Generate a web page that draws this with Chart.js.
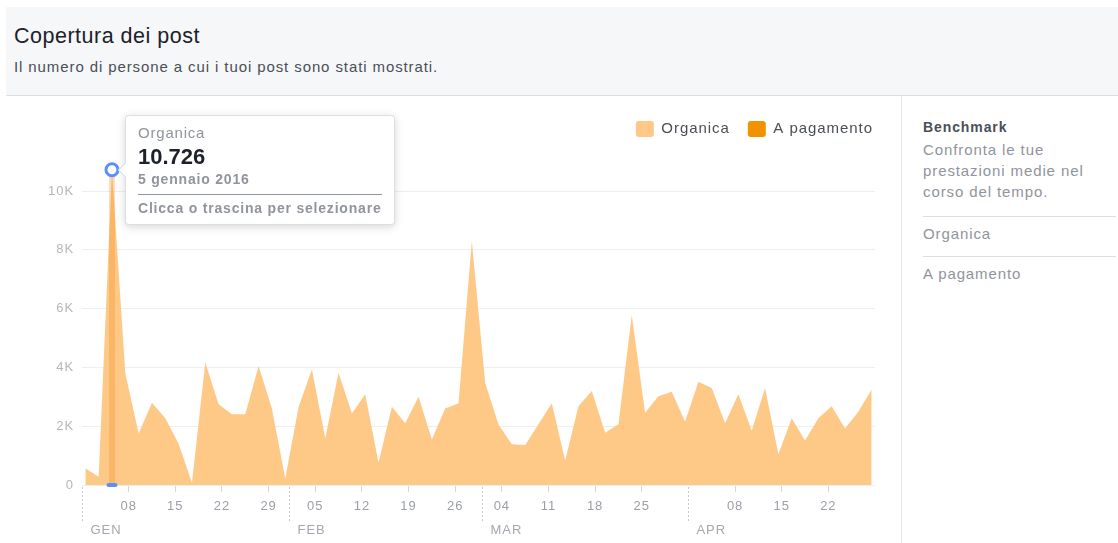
<!DOCTYPE html>
<html lang="it">
<head>
<meta charset="utf-8">
<title>Copertura dei post</title>
<script src="https://cdn.jsdelivr.net/npm/chart.js@4.4.1/dist/chart.umd.min.js"></script>
<style>
  html, body { margin: 0; padding: 0; background: #fff; }
  body { width: 1118px; height: 543px; position: relative; overflow: hidden;
         font-family: "Liberation Sans", Arial, Helvetica, sans-serif; }
  #intestazione { position: absolute; left: 6px; top: 7px; width: 1112px; height: 88px;
                  background: #f6f7f9; border-bottom: 1px solid #dadde1; }
  #titolo { position: absolute; left: 8px; top: 17px; font-size: 21.5px; line-height: 25px;
            letter-spacing: 0.5px; color: #1d2129; white-space: nowrap; }
  #sottotitolo { position: absolute; left: 8px; top: 51px; font-size: 15px; line-height: 18px;
                 letter-spacing: 0.9px; color: #4b4f56; white-space: nowrap; }
  #contenitore { position: absolute; left: 0; top: 96px; width: 900px; height: 447px; }
  #separatore { position: absolute; left: 901px; top: 96px; width: 1px; height: 447px; background: #e5e7ea; }
  #pannello { position: absolute; left: 923px; top: 0; width: 193px; }
  #pannello .riga { position: absolute; left: 0; white-space: nowrap; letter-spacing: 0.9px; }
  #pannello .linea { position: absolute; left: 0; width: 193px; height: 1px; background: #dddfe2; }
  #tooltip { position: absolute; display: none; width: 270px; box-sizing: border-box;
             padding: 8px 12px 7px 12px; background: #fff; border: 1px solid rgba(0,0,0,0.13);
             border-radius: 4px; box-shadow: 0 2px 9px rgba(0,0,0,0.16); transform: translateY(-50%);
             letter-spacing: 0.8px; }
  #tooltip::before { content: ""; position: absolute; left: -6px; top: 50%; width: 10px; height: 10px;
             background: #fff; border-left: 1px solid rgba(0,0,0,0.13); border-bottom: 1px solid rgba(0,0,0,0.13);
             transform: translateY(-50%) rotate(45deg); }
  .tt-serie { font-size: 15px; line-height: 18px; color: #90949c; }
  .tt-valore { font-size: 22px; line-height: 26px; margin-top: 2px; font-weight: bold; color: #1d2129; letter-spacing: 0; }
  .tt-data { font-size: 14px; line-height: 17px; margin-top: 1px; font-weight: bold; color: #90949c; }
  .tt-divisore { margin-top: 6px; height: 1px; background: #90949c; }
  .tt-azione { font-size: 14px; line-height: 17px; margin-top: 5px; font-weight: bold; color: #90949c; }
</style>
</head>
<body>
<div id="intestazione">
  <div id="titolo">Copertura dei post</div>
  <div id="sottotitolo">Il numero di persone a cui i tuoi post sono stati mostrati.</div>
</div>

<div id="contenitore"><canvas id="graficoCopertura"></canvas></div>
<div id="separatore"></div>

<div id="pannello">
  <div class="riga" style="top:119px;font-size:14px;line-height:17px;font-weight:bold;color:#4b4f56;">Benchmark</div>
  <div class="riga" style="top:139px;font-size:15px;line-height:21px;color:#90949c;">Confronta le tue<br>prestazioni medie nel<br>corso del tempo.</div>
  <div class="linea" style="top:216px;"></div>
  <div class="riga" style="top:225px;font-size:15px;line-height:18px;color:#90949c;">Organica</div>
  <div class="linea" style="top:256px;"></div>
  <div class="riga" style="top:265px;font-size:15px;line-height:18px;color:#90949c;">A pagamento</div>
</div>

<div id="tooltip">
  <div class="tt-serie"></div>
  <div class="tt-valore"></div>
  <div class="tt-data"></div>
  <div class="tt-divisore"></div>
  <div class="tt-azione">Clicca o trascina per selezionare</div>
</div>

<script>
// date dei punti (un punto ogni due giorni)
var date = [
  '2016-01-01','2016-01-03','2016-01-05','2016-01-07','2016-01-09','2016-01-11','2016-01-13','2016-01-15',
  '2016-01-17','2016-01-19','2016-01-21','2016-01-23','2016-01-25','2016-01-27','2016-01-29','2016-01-31',
  '2016-02-02','2016-02-04','2016-02-06','2016-02-08','2016-02-10','2016-02-12','2016-02-14',
  '2016-02-16','2016-02-18','2016-02-20','2016-02-22','2016-02-24','2016-02-26','2016-02-28',
  '2016-03-01','2016-03-03','2016-03-05','2016-03-07','2016-03-09','2016-03-11','2016-03-13','2016-03-15',
  '2016-03-17','2016-03-19','2016-03-21','2016-03-23','2016-03-25','2016-03-27','2016-03-29','2016-03-31',
  '2016-04-02','2016-04-04','2016-04-06','2016-04-08','2016-04-10','2016-04-12','2016-04-14',
  '2016-04-16','2016-04-18','2016-04-20','2016-04-22','2016-04-24','2016-04-26','2016-04-28'
];

// copertura organica
var organica = [
  570, 280, 10726, 3800, 1750, 2800, 2270, 1400, 80, 4170, 2750, 2410, 2410, 4050, 2600, 220,
  2650, 3940, 1590, 3820, 2430, 3090, 760, 2660, 2100, 3000, 1550, 2600, 2780, 8300,
  3480, 2060, 1390, 1360, 2070, 2780, 830, 2680, 3200, 1780, 2070, 5780, 2460, 3020, 3170, 2150,
  3510, 3300, 2100, 3090, 1850, 3300, 1050, 2270, 1510, 2270, 2680, 1920, 2490, 3250
];

// copertura a pagamento (nessuna)
var aPagamento = [
  0, 0, 0, 0, 0, 0, 0, 0, 0, 0, 0, 0, 0, 0, 0, 0,
  0, 0, 0, 0, 0, 0, 0, 0, 0, 0, 0, 0, 0, 0,
  0, 0, 0, 0, 0, 0, 0, 0, 0, 0, 0, 0, 0, 0, 0, 0,
  0, 0, 0, 0, 0, 0, 0, 0, 0, 0, 0, 0, 0, 0
];

// tick settimanali e relative etichette
var tickSettimane = ['2016-01-08','2016-01-15','2016-01-22','2016-01-29','2016-02-05','2016-02-12','2016-02-19','2016-02-26',
                     '2016-03-04','2016-03-11','2016-03-18','2016-03-25','2016-04-08','2016-04-15','2016-04-22'];
var etichetteSettimane = ['08','15','22','29','05','12','19','26','04','11','18','25','08','15','22'];

// inizio dei mesi
var inizioMesi = ['2016-01-01','2016-02-01','2016-03-01','2016-04-01'];
var etichetteMesi = ['GEN','FEB','MAR','APR'];
var nomiMesi = ['gennaio','febbraio','marzo','aprile'];

// asse y
var tickY = [0, 2000, 4000, 6000, 8000, 10000];
var etichetteY = ['0','2K','4K','6K','8K','10K'];

var giornoEvidenziato = '2016-01-05';

//giorni trascorsi dal primo gennaio
function giorno(s) {
  var p = s.split('-');
  return (Date.UTC(+p[0], p[1] - 1, +p[2]) - Date.UTC(2016, 0, 1)) / 864e5;
}

function formatoNumero(v) {
  return String(v).replace(/\B(?=(\d{3})+(?!\d))/g, '.');
}

function dataEstesa(s) {
  var p = s.split('-');
  return (+p[2]) + ' ' + nomiMesi[p[1] - 1] + ' ' + p[0];
}

var FONT = '"Liberation Sans", Arial, Helvetica, sans-serif';
Chart.defaults.font.family = FONT;

//spaziatura lettere sul canvas
var spaziatura = {
  id: 'spaziatura',
  beforeUpdate: function(chart) { chart.ctx.letterSpacing = '0.95px'; },
  beforeDraw: function(chart) { chart.ctx.letterSpacing = '0.95px'; }
};

//barra verticale e segno blu sul punto attivo
var evidenzia = {
  id: 'evidenzia',
  beforeDatasetDraw: function(chart, args) {
    if (args.index !== 0) return;
    var act = chart.getActiveElements()[0];
    if (!act) return;
    var pt = act.element, ctx = chart.ctx;
    ctx.save();
    ctx.fillStyle = 'rgba(240,128,20,0.28)';
    ctx.fillRect(pt.x - 3, pt.y, 6, chart.chartArea.bottom - pt.y);
    ctx.restore();
  },
  afterDatasetsDraw: function(chart) {
    var act = chart.getActiveElements()[0];
    if (!act) return;
    var pt = act.element, ctx = chart.ctx;
    ctx.save();
    ctx.fillStyle = '#5b8ff9';
    ctx.beginPath();
    ctx.roundRect(pt.x - 5.5, chart.chartArea.bottom - 2, 11, 4, 2);
    ctx.fill();
    ctx.restore();
  }
};

//linee tratteggiate e nomi dei mesi
var mesi = {
  id: 'mesi',
  afterDraw: function(chart) {
    var ctx = chart.ctx, xs = chart.scales.x, bottom = chart.chartArea.bottom;
    ctx.save();
    ctx.strokeStyle = '#c4c7cc';
    ctx.lineWidth = 1;
    ctx.setLineDash([2, 2]);
    ctx.fillStyle = '#a3a7ae';
    ctx.font = '13px ' + FONT;
    ctx.textBaseline = 'middle';
    inizioMesi.forEach(function(d, i) {
      var x = Math.round(xs.getPixelForValue(giorno(d))) + 0.5;
      ctx.beginPath();
      ctx.moveTo(x, bottom + 2);
      ctx.lineTo(x, bottom + 38);
      ctx.stroke();
      ctx.fillText(etichetteMesi[i], x + 8, bottom + 45.5);
    });
    ctx.restore();
  }
};

function tooltipEsterno(context) {
  var chart = context.chart, tooltip = context.tooltip;
  var el = document.getElementById('tooltip');
  if (tooltip.opacity === 0 || !tooltip.dataPoints || !tooltip.dataPoints.length) {
    el.style.display = 'none';
    return;
  }
  var p = tooltip.dataPoints[0];
  el.querySelector('.tt-serie').textContent = p.dataset.label;
  el.querySelector('.tt-valore').textContent = formatoNumero(p.raw.y);
  el.querySelector('.tt-data').textContent = dataEstesa(date[p.dataIndex]);
  var box = document.getElementById('contenitore');
  el.style.left = (box.offsetLeft + tooltip.caretX + 13) + 'px';
  el.style.top = (box.offsetTop + tooltip.caretY) + 'px';
  el.style.display = 'block';
}

var puntiOrganica = organica.map(function(v, i) { return {x: giorno(date[i]) + 0.5, y: v}; });
var puntiPagamento = aPagamento.map(function(v, i) { return {x: giorno(date[i]) + 0.5, y: v}; });

var ctx = document.getElementById('graficoCopertura').getContext('2d');
var grafico = new Chart(ctx, {
  type: 'line',
  data: {
    datasets: [{
      label: 'Organica',
      data: puntiOrganica,
      backgroundColor: '#fec987',
      borderColor: 'rgba(0,0,0,0)',
      borderWidth: 0,
      fill: 'origin',
      tension: 0,
      pointRadius: 0,
      pointHoverRadius: 6,
      pointHoverBorderWidth: 3,
      pointHoverBorderColor: '#5b8ff9',
      pointHoverBackgroundColor: '#ffffff'
    }, {
      label: 'A pagamento',
      data: puntiPagamento,
      backgroundColor: '#f39200',
      borderColor: 'rgba(0,0,0,0)',
      borderWidth: 0,
      fill: 'origin',
      tension: 0,
      pointRadius: 0,
      pointHoverRadius: 0
    }]
  },
  options: {
    responsive: true,
    maintainAspectRatio: false,
    animation: false,
    events: [],
    layout: { padding: { top: 7, right: 9, left: 0, bottom: 0 } },
    scales: {
      x: {
        type: 'linear',
        min: 0,
        max: 119,
        afterBuildTicks: function(s) { s.ticks = tickSettimane.map(function(d) { return {value: giorno(d)}; }); },
        afterFit: function(s) { s.height = 58; },
        grid: { drawOnChartArea: false, drawTicks: true, tickLength: 7, color: '#d3d6db' },
        border: { display: false },
        ticks: {
          autoSkip: false, maxRotation: 0, padding: 7,
          color: '#9a9ea6', font: { size: 13 },
          callback: function(v, i) { return etichetteSettimane[i]; }
        }
      },
      y: {
        min: 0,
        max: 11500,
        afterBuildTicks: function(s) { s.ticks = tickY.map(function(v) { return {value: v}; }); },
        afterFit: function(s) { s.width = 82; },
        grid: { drawTicks: false, color: '#eceef1' },
        border: { display: false },
        ticks: {
          padding: 8, color: '#b3b7bd', font: { size: 13 },
          callback: function(v, i) { return etichetteY[i]; }
        }
      },
      destra: {
        type: 'linear',
        position: 'right',
        display: true,
        afterFit: function(s) { s.width = 16; },
        grid: { display: false },
        border: { display: false },
        ticks: { display: false }
      }
    },
    plugins: {
      legend: {
        align: 'end',
        labels: {
          boxWidth: 18, boxHeight: 16, padding: 18,
          useBorderRadius: true, borderRadius: 3,
          color: '#4b4f56', font: { size: 15 }
        }
      },
      tooltip: {
        enabled: false,
        external: tooltipEsterno
      }
    }
  },
  plugins: [spaziatura, evidenzia, mesi]
});

//attiva il punto del 5 gennaio
var indiceAttivo = date.indexOf(giornoEvidenziato);
var elAttivo = grafico.getDatasetMeta(0).data[indiceAttivo];
grafico.setActiveElements([{datasetIndex: 0, index: indiceAttivo}]);
grafico.tooltip.setActiveElements([{datasetIndex: 0, index: indiceAttivo}], {x: elAttivo.x, y: elAttivo.y});
grafico.update();
</script>
</body>
</html>
